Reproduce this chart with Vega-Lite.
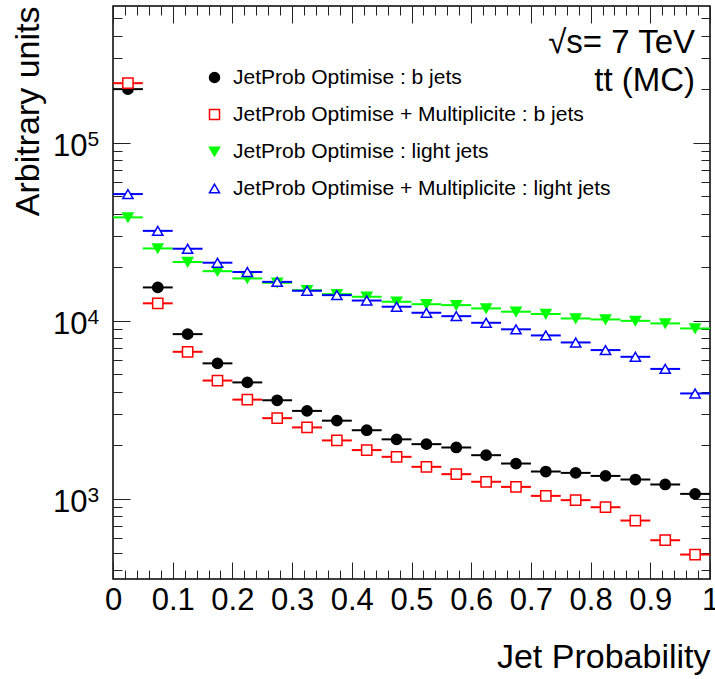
{
  "$schema": "https://vega.github.io/schema/vega-lite/v6.json",
  "width": 597,
  "height": 573,
  "autosize": {"type": "none"},
  "padding": {"left": 113, "top": 6, "right": 5, "bottom": 100},
  "background": "white",
  "config": {
    "font": "Liberation Sans",
    "view": {"stroke": "black", "strokeWidth": 1.5},
    "axis": {"labelColor": "black", "titleColor": "black", "titleFontWeight": "normal", "labelFont": "Liberation Sans", "titleFont": "Liberation Sans"},
    "legend": {"labelFont": "Liberation Sans"}
  },
  "datasets": {
    "hist": [
      {"p": 0.025, "lo": 0.0, "hi": 0.05, "b": 200000, "bm": 216000, "l": 38100, "lm": 51500},
      {"p": 0.075, "lo": 0.05, "hi": 0.1, "b": 15400, "bm": 12540, "l": 25500, "lm": 32000},
      {"p": 0.125, "lo": 0.1, "hi": 0.15, "b": 8420, "bm": 6700, "l": 21400, "lm": 25400},
      {"p": 0.175, "lo": 0.15, "hi": 0.2, "b": 5770, "bm": 4620, "l": 19000, "lm": 21200},
      {"p": 0.225, "lo": 0.2, "hi": 0.25, "b": 4510, "bm": 3610, "l": 17300, "lm": 18800},
      {"p": 0.275, "lo": 0.25, "hi": 0.3, "b": 3580, "bm": 2840, "l": 16360, "lm": 16550},
      {"p": 0.325, "lo": 0.3, "hi": 0.35, "b": 3120, "bm": 2520, "l": 14870, "lm": 14750},
      {"p": 0.375, "lo": 0.35, "hi": 0.4, "b": 2750, "bm": 2130, "l": 14120, "lm": 13940},
      {"p": 0.425, "lo": 0.4, "hi": 0.45, "b": 2430, "bm": 1880, "l": 13650, "lm": 13000},
      {"p": 0.475, "lo": 0.45, "hi": 0.5, "b": 2160, "bm": 1723, "l": 12800, "lm": 12000},
      {"p": 0.525, "lo": 0.5, "hi": 0.55, "b": 2030, "bm": 1514, "l": 12400, "lm": 11100},
      {"p": 0.575, "lo": 0.55, "hi": 0.6, "b": 1944, "bm": 1377, "l": 12250, "lm": 10620},
      {"p": 0.625, "lo": 0.6, "hi": 0.65, "b": 1760, "bm": 1248, "l": 11740, "lm": 9750},
      {"p": 0.675, "lo": 0.65, "hi": 0.7, "b": 1580, "bm": 1168, "l": 11250, "lm": 8960},
      {"p": 0.725, "lo": 0.7, "hi": 0.75, "b": 1425, "bm": 1040, "l": 10920, "lm": 8280},
      {"p": 0.775, "lo": 0.75, "hi": 0.8, "b": 1400, "bm": 984, "l": 10310, "lm": 7560},
      {"p": 0.825, "lo": 0.8, "hi": 0.85, "b": 1346, "bm": 898, "l": 10180, "lm": 6850},
      {"p": 0.875, "lo": 0.85, "hi": 0.9, "b": 1285, "bm": 756, "l": 10000, "lm": 6280},
      {"p": 0.925, "lo": 0.9, "hi": 0.95, "b": 1205, "bm": 586, "l": 9670, "lm": 5370},
      {"p": 0.975, "lo": 0.95, "hi": 1.0, "b": 1067, "bm": 487, "l": 9060, "lm": 3910}
    ],
    "notes": [
      {"t": "√s= 7 TeV", "px": 0.975, "py": 318000},
      {"t": "tt (MC)", "px": 0.975, "py": 196000}
    ]
  },
  "resolve": {"axis": {"x": "independent", "y": "independent"}},
  "layer": [
    {
      "data": {"name": "hist"},
      "transform": [{"fold": ["b", "bm", "l", "lm"], "as": ["key", "val"]}],
      "mark": {"type": "rule", "strokeWidth": 2},
      "encoding": {
        "x": {
          "field": "lo", "type": "quantitative",
          "scale": {"domain": [0, 1], "nice": false, "zero": false},
          "axis": {
            "orient": "bottom",
            "values": [0, 0.1, 0.2, 0.3, 0.4, 0.5, 0.6, 0.7, 0.8, 0.9, 1],
            "format": "~g", "labelFlush": false, "labelOverlap": false,
            "ticks": false, "domain": false,
            "grid": true, "gridColor": "#222", "gridWidth": 1, "gridOpacity": 1, "gridDash": [17, 539],
            "labelFontSize": 31, "labelPadding": 6, "labelBaseline": "top",
            "title": "Jet Probability", "titleFontSize": 34, "titleAnchor": "end", "titleAlign": "right",
            "titleBaseline": "alphabetic", "titleY": 88
          }
        },
        "x2": {"field": "hi"},
        "y": {
          "field": "val", "type": "quantitative",
          "scale": {"type": "log", "domain": [355, 586000], "nice": false},
          "axis": {
            "orient": "left",
            "values": [1000, 10000, 100000],
            "labelExpr": "'10'", "labelFontSize": 31, "labelPadding": 26, "labelBaseline": "alphabetic", "labelOffset": 13,
            "labelOverlap": false, "ticks": false, "domain": false,
            "grid": true, "gridColor": "#222", "gridWidth": 1, "gridOpacity": 1, "gridDash": [17, 563],
            "title": "Arbitrary units", "titleFontSize": 34, "titleAngle": -90, "titleAlign": "right",
            "titleBaseline": "alphabetic", "titleX": -75, "titleY": 0
          }
        },
        "stroke": {
          "field": "key", "type": "nominal",
          "scale": {"domain": ["b", "bm", "l", "lm"], "range": ["#000000", "#ff0000", "#00ff00", "#0000ff"]}
        }
      }
    },
    {
      "data": {"name": "hist"},
      "transform": [{"fold": ["b", "bm", "l", "lm"], "as": ["key", "val"]}],
      "mark": {"type": "point", "size": 105, "strokeWidth": 1.5, "opacity": 1},
      "encoding": {
        "x": {
          "field": "p", "type": "quantitative",
          "axis": {
            "orient": "bottom",
            "values": [0.02, 0.04, 0.06, 0.08, 0.12, 0.14, 0.16, 0.18, 0.22, 0.24, 0.26, 0.28, 0.32, 0.34, 0.36, 0.38, 0.42, 0.44, 0.46, 0.48, 0.52, 0.54, 0.56, 0.58, 0.62, 0.64, 0.66, 0.68, 0.72, 0.74, 0.76, 0.78, 0.82, 0.84, 0.86, 0.88, 0.92, 0.94, 0.96, 0.98],
            "labels": false, "ticks": false, "domain": false,
            "grid": true, "gridColor": "#222", "gridWidth": 1, "gridOpacity": 1, "gridDash": [9, 555],
            "title": null
          }
        },
        "y": {
          "field": "val", "type": "quantitative",
          "axis": {
            "orient": "left",
            "values": [400, 500, 600, 700, 800, 900, 1000, 2000, 3000, 4000, 5000, 6000, 7000, 8000, 9000, 10000, 20000, 30000, 40000, 50000, 60000, 70000, 80000, 90000, 100000, 200000, 300000, 400000, 500000],
            "labelExpr": "datum.value == 1000 ? '3' : datum.value == 10000 ? '4' : datum.value == 100000 ? '5' : ''",
            "labelFontSize": 21, "labelAlign": "left", "labelPadding": 26, "labelBaseline": "alphabetic", "labelOffset": 3,
            "labelOverlap": false, "ticks": false, "domain": false,
            "grid": true, "gridColor": "#222", "gridWidth": 1, "gridOpacity": 1, "gridDash": [9, 579],
            "title": null
          }
        },
        "shape": {
          "field": "key", "type": "nominal",
          "scale": {"domain": ["b", "bm", "l", "lm"], "range": ["circle", "square", "triangle-down", "triangle-up"]},
          "legend": {
            "orient": "none", "legendX": 91, "legendY": 61, "title": null,
            "labelExpr": "datum.value == 'b' ? 'JetProb Optimise : b jets' : datum.value == 'bm' ? 'JetProb Optimise + Multiplicite : b jets' : datum.value == 'l' ? 'JetProb Optimise : light jets' : 'JetProb Optimise + Multiplicite : light jets'",
            "labelFontSize": 21, "labelColor": "black", "labelLimit": 600, "labelOffset": 8,
            "symbolSize": 100, "symbolStrokeWidth": 1.5, "rowPadding": 15, "padding": 0
          }
        },
        "stroke": {"field": "key", "type": "nominal"},
        "fill": {
          "field": "key", "type": "nominal",
          "scale": {"domain": ["b", "bm", "l", "lm"], "range": ["#000000", "#ffffff", "#00ff00", "#ffffff"]}
        }
      }
    },
    {
      "data": {"name": "notes"},
      "mark": {"type": "text", "align": "right", "baseline": "alphabetic", "fontSize": 33, "color": "black"},
      "encoding": {
        "x": {"field": "px", "type": "quantitative", "axis": null},
        "y": {"field": "py", "type": "quantitative", "axis": null},
        "text": {"field": "t"}
      }
    }
  ]
}
